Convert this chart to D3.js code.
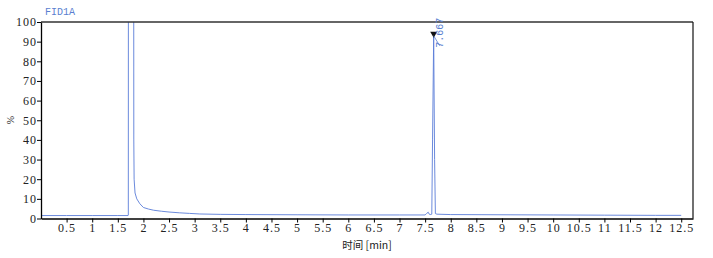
<!DOCTYPE html>
<html>
<head>
<meta charset="utf-8">
<script src="https://cdn.jsdelivr.net/npm/d3@7"></script>
<style>
body{margin:0;background:#fff;}
svg{display:block;}
</style>
</head>
<body>
<svg id="chart" width="713" height="258"></svg>
<script>
// chromatogram trace (time in min, signal in %)
var timeMin = [0.02, 0.5, 1.0, 1.5, 1.70, 1.705, 1.708, 1.806, 1.812, 1.818, 1.836, 1.87, 1.93, 2.0, 2.1, 2.2, 2.35, 2.5, 2.7, 2.9, 3.1, 3.5, 4.0, 5.0, 6.0, 7.0, 7.5, 7.53, 7.56, 7.58, 7.60, 7.63, 7.645, 7.667, 7.685, 7.70, 7.73, 8.0, 9.0, 10.0, 11.0, 12.0, 12.5];
var signal  = [1.5, 1.5, 1.5, 1.5, 1.5, 1.7, 300, 300, 40, 20, 13, 10, 7.5, 5.6, 4.8, 4.2, 3.7, 3.3, 2.9, 2.6, 2.3, 2.1, 2.0, 1.9, 1.8, 1.8, 1.8, 2.6, 3.2, 2.2, 2.0, 2.2, 40, 93, 30, 2.5, 2.2, 2.0, 1.9, 1.8, 1.7, 1.6, 1.6];
var xTicks = d3.range(1, 26).map(function(d){ return d * 0.5; });
var yTicks = d3.range(0, 101, 10);
var peakTime = 7.667, peakHeight = 93, peakLabel = "7.667";

var svg = d3.select("#chart");
var plotL = 41, plotR = 693, plotT = 22, plotB = 218.5;
var x = d3.scaleLinear().domain([0, 12.73]).range([plotL, plotR]);
var y = d3.scaleLinear().domain([0, 100]).range([plotB, plotT]);

svg.append("text").text("FID1A").attr("x", 45).attr("y", 15)
	.attr("font-family", "Liberation Mono, monospace").attr("font-size", 10).attr("fill", "#5a7fd0");

svg.append("defs").append("clipPath").attr("id", "clip")
	.append("rect").attr("x", plotL).attr("y", plotT).attr("width", plotR - plotL).attr("height", plotB - plotT);

var line = d3.line().x(function(d, i){ return x(timeMin[i]); }).y(function(d){ return y(d); });
svg.append("path").datum(signal).attr("d", line).attr("clip-path", "url(#clip)")
	.attr("fill", "none").attr("stroke", "#5a7dd8").attr("stroke-width", 0.9);

// frame
svg.append("line").attr("x1", plotL).attr("x2", plotR).attr("y1", plotT).attr("y2", plotT).attr("stroke", "#333").attr("stroke-width", 1.5);
svg.append("line").attr("x1", plotR).attr("x2", plotR).attr("y1", plotT).attr("y2", plotB).attr("stroke", "#111").attr("stroke-width", 1.2);

var xAxis = svg.append("g").attr("transform", "translate(0," + plotB + ")")
	.call(d3.axisBottom(x).tickValues(xTicks).tickSize(4).tickSizeOuter(0).tickFormat(d3.format("")));
var yAxis = svg.append("g").attr("transform", "translate(" + plotL + ",0)")
	.call(d3.axisLeft(y).tickValues(yTicks).tickSize(4).tickSizeOuter(0));
[xAxis, yAxis].forEach(function(ax){
	ax.select(".domain").attr("stroke-width", 1.3);
	ax.selectAll(".tick text").attr("font-family", "Liberation Serif, serif").attr("font-size", 12)
		.attr("letter-spacing", 1).attr("fill", "#222");
});
xAxis.selectAll(".tick text").attr("y", 5);
yAxis.selectAll(".tick text").attr("x", -4);

svg.append("text").text("%").attr("transform", "translate(14,120) rotate(-90)")
	.attr("text-anchor", "middle").attr("font-family", "Liberation Serif, serif").attr("font-size", 10).attr("fill", "#222");
svg.append("text").text("时间 [min]").attr("x", 367).attr("y", 249).attr("text-anchor", "middle")
	.attr("font-family", "Noto Sans CJK SC, sans-serif").attr("font-size", 10.5).attr("fill", "#222");

// peak marker
var px = x(peakTime), py = y(peakHeight);
svg.append("path").attr("d", "M" + (px - 3.5) + "," + (py - 4) + "L" + (px + 3.5) + "," + (py - 4) + "L" + px + "," + (py + 2) + "Z").attr("fill", "#111");
svg.append("line").attr("x1", px).attr("y1", py).attr("x2", px + 6).attr("y2", py + 10).attr("stroke", "#5a7fd0").attr("stroke-width", 0.8);
svg.append("text").text(peakLabel).attr("transform", "translate(" + (px + 9) + "," + (py + 12) + ") rotate(-90)")
	.attr("font-family", "Liberation Mono, monospace").attr("font-size", 10).attr("fill", "#5a7fd0");
</script>
</body>
</html>
